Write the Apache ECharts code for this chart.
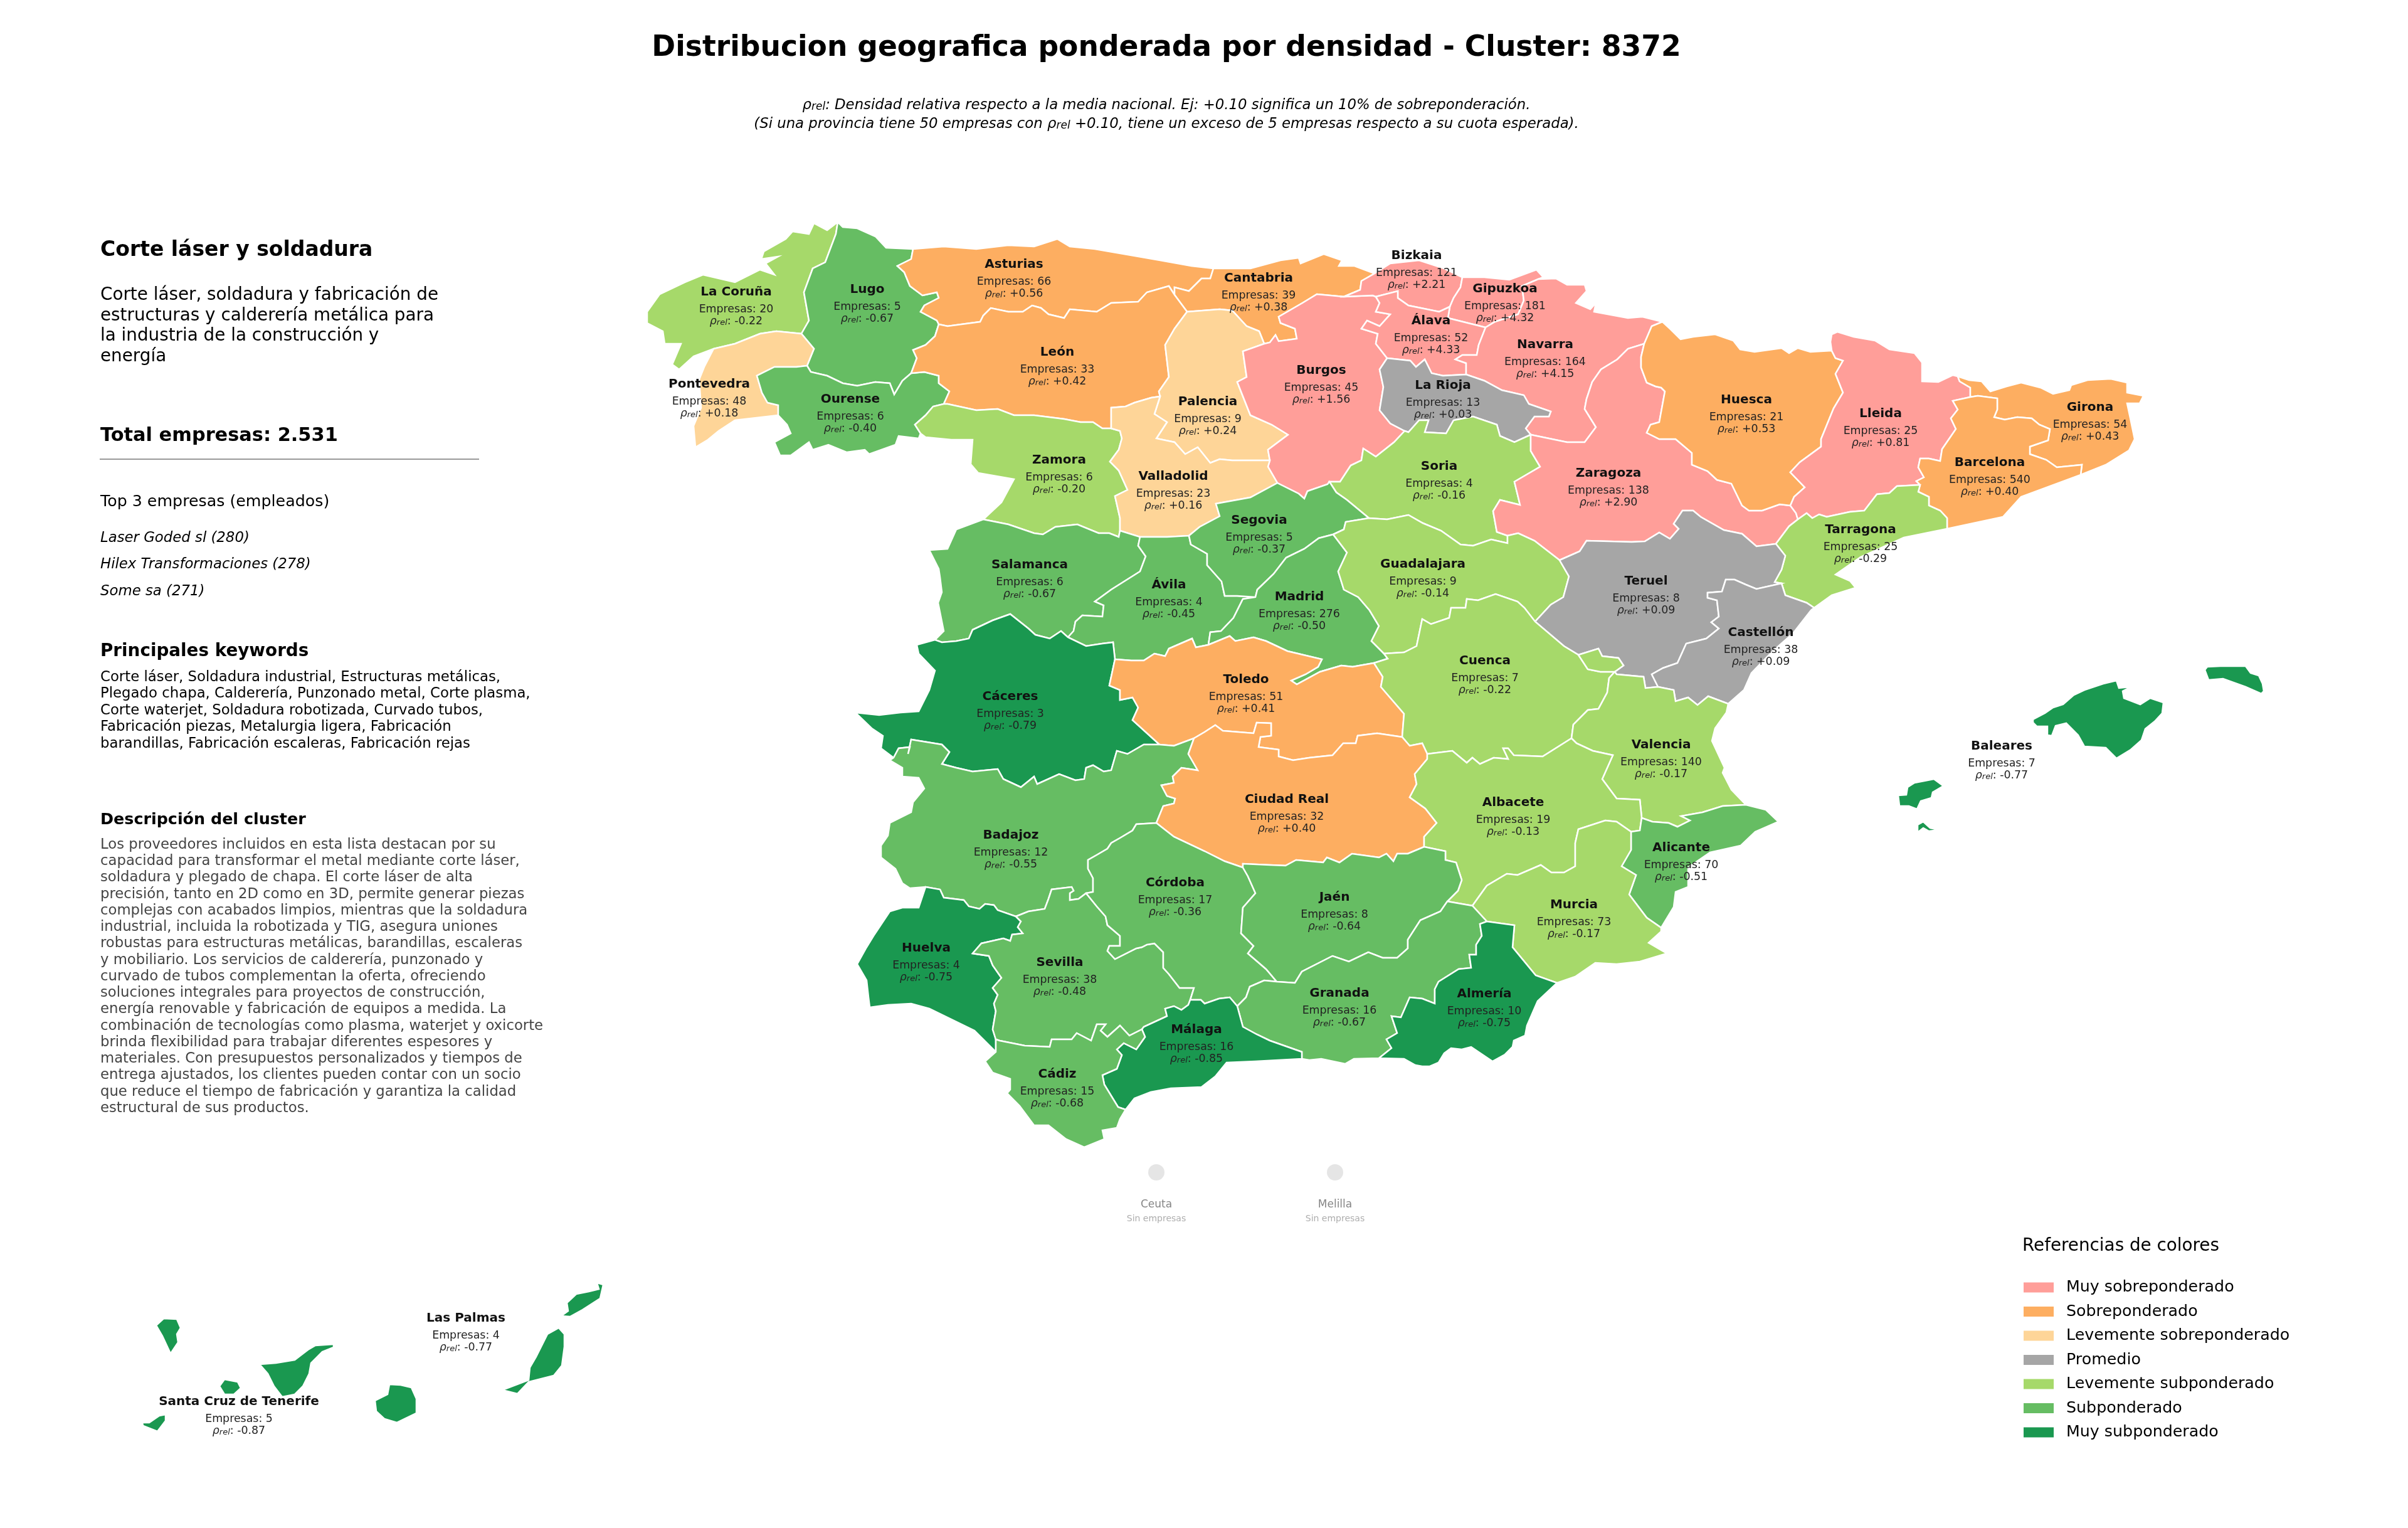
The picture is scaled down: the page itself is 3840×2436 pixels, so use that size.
<!DOCTYPE html>
<html>
<head>
<meta charset="utf-8">
<style>html,body{margin:0;padding:0;background:#fff}#chart{width:3840px;height:2436px}</style>
<script src="https://cdn.jsdelivr.net/npm/echarts@6/dist/echarts.min.js"></script>
</head>
<body>
<div id="chart"></div>
<script>
var FONT = '"DejaVu Sans"';

// values
var provinces = ['La Coruña','Lugo','Pontevedra','Ourense','Asturias','Cantabria','León','Palencia','Burgos','Bizkaia','Gipuzkoa','Álava','Navarra','La Rioja','Zamora','Valladolid','Soria','Zaragoza','Huesca','Lleida','Girona','Barcelona','Tarragona','Salamanca','Ávila','Segovia','Madrid','Guadalajara','Teruel','Castellón','Cáceres','Toledo','Cuenca','Valencia','Badajoz','Ciudad Real','Albacete','Alicante','Huelva','Sevilla','Córdoba','Jaén','Murcia','Granada','Almería','Málaga','Cádiz','Baleares','Las Palmas','Santa Cruz de Tenerife'];
var empresas = [20,5,48,6,66,39,33,9,45,121,181,52,164,13,6,23,4,138,21,25,54,540,25,6,4,5,276,9,8,38,3,51,7,140,12,32,19,70,4,38,17,8,73,16,10,16,15,7,4,5];
var rhoRel = [-0.22,-0.67,0.18,-0.40,0.56,0.38,0.42,0.24,1.56,2.21,4.32,4.33,4.15,0.03,-0.20,0.16,-0.16,2.90,0.53,0.81,0.43,0.40,-0.29,-0.67,-0.45,-0.37,-0.50,-0.14,0.09,0.09,-0.79,0.41,-0.22,-0.17,-0.55,0.40,-0.13,-0.51,-0.75,-0.48,-0.36,-0.64,-0.17,-0.67,-0.75,-0.85,-0.68,-0.77,-0.77,-0.87];

var legendLabels = ['Muy sobreponderado','Sobreponderado','Levemente sobreponderado','Promedio','Levemente subponderado','Subponderado','Muy subponderado'];
var legendColors = ['#ff9e99','#fdae61','#fed598','#a6a6a6','#a6d96a','#66bd63','#1a9850'];

var noData = ['Ceuta','Melilla'];
var noDataPoints = [[1844,1869],[2129,1869]];

var mainTitle = 'Distribucion geografica ponderada por densidad - Cluster: 8372';
var clusterName = 'Corte láser y soldadura';
var clusterSummary = ['Corte láser, soldadura y fabricación de','estructuras y calderería metálica para','la industria de la construcción y','energía'];
var totalText = 'Total empresas: 2.531';
var topCompanies = ['Laser Goded sl (280)','Hilex Transformaciones (278)','Some sa (271)'];
var keywords = ['Corte láser, Soldadura industrial, Estructuras metálicas,','Plegado chapa, Calderería, Punzonado metal, Corte plasma,','Corte waterjet, Soldadura robotizada, Curvado tubos,','Fabricación piezas, Metalurgia ligera, Fabricación','barandillas, Fabricación escaleras, Fabricación rejas'];
var description = ['Los proveedores incluidos en esta lista destacan por su','capacidad para transformar el metal mediante corte láser,','soldadura y plegado de chapa. El corte láser de alta','precisión, tanto en 2D como en 3D, permite generar piezas','complejas con acabados limpios, mientras que la soldadura','industrial, incluida la robotizada y TIG, asegura uniones','robustas para estructuras metálicas, barandillas, escaleras','y mobiliario. Los servicios de calderería, punzonado y','curvado de tubos complementan la oferta, ofreciendo','soluciones integrales para proyectos de construcción,','energía renovable y fabricación de equipos a medida. La','combinación de tecnologías como plasma, waterjet y oxicorte','brinda flexibilidad para trabajar diferentes espesores y','materiales. Con presupuestos personalizados y tiempos de','entrega ajustados, los clientes pueden contar con un socio','que reduce el tiempo de fabricación y garantiza la calidad','estructural de sus productos.'];

// province outlines, in picture pixels. shared borders are
// kept once, as arcs, so neighbours close up without gaps
var arcs = {
COR_coast:'1336,354 1319,367 1298,356 1290,373 1264,369 1253,381 1218,401 1214,413 1241,409 1221,420 1235,438 1212,430 1172,450 1121,438 1092,450 1052,469 1032,497 1032,515 1057,528 1060,548 1086,548 1072,581 1083,589 1106,568 1138,556',
COR_PO:'1138,556 1172,548 1212,532 1238,528 1278,532',
COR_LU:'1278,532 1290,511 1282,466 1296,428 1316,418 1333,373 1336,354',
LU_coast:'1336,354 1344,362 1367,364 1396,377 1413,395 1456,397',
LU_AS:'1456,397 1453,413 1431,424 1442,434 1451,456 1471,471 1494,466 1497,475 1474,487 1468,497 1494,511 1497,517',
LU_LE:'1497,517 1491,536 1476,550 1456,558 1462,571 1453,595',
LU_OU:'1453,595 1439,607 1426,629 1419,611 1396,609 1367,615 1344,611 1319,599 1293,593 1287,583',
LU_PO:'1287,583 1298,556 1278,532',
PO_OU:'1287,583 1270,585 1235,585 1207,599 1215,626 1224,642 1241,646 1241,662',
PO_south:'1241,662 1172,670 1146,687 1129,701 1109,713',
PO_west:'1109,713 1106,679 1118,650 1115,605 1123,585 1138,556',
OU_south:'1241,662 1255,677 1261,691 1235,705 1244,726 1261,726 1290,705 1296,717 1321,709 1350,721 1379,717 1386,724 1428,709 1433,695 1465,699 1468,691',
OU_ZA:'1468,691 1459,677 1476,662 1488,648 1505,644',
OU_LE:'1505,644 1514,624 1497,611 1497,599 1474,593 1453,595',
AS_coast:'1456,397 1505,393 1557,397 1608,391 1649,393 1686,381 1706,393 1746,397 1804,407 1850,415 1900,424 1935,428',
AS_CB:'1935,428 1930,444 1916,444 1896,464 1873,458 1873,470',
AS_LE:'1497,517 1511,520 1563,513 1568,503 1580,491 1608,497 1631,497 1646,487 1660,491 1672,501 1697,507 1706,493 1749,497 1772,483 1815,481 1829,466 1864,456 1873,470',
CB_coast:'1935,428 1994,428 2042,415 2071,411 2074,420 2111,405 2140,415 2135,424 2160,424 2192,436',
CB_BI:'2192,436 2171,448 2169,462 2143,473',
CB_BU:'2143,473 2100,469 2077,483 2039,505 2042,515 2065,524 2068,540 2039,544 2034,534 2025,546 2016,548',
CB_P:'2016,548 2008,528 1988,520 1965,495 1945,493 1893,497',
CB_LE:'1893,497 1873,470',
LE_P:'1893,497 1873,524 1858,550 1864,601 1848,624 1850,632',
LE_VA:'1850,632 1836,634 1809,642 1795,648 1772,650 1772,683',
LE_ZA:'1505,644 1511,644 1557,654 1591,652 1617,662 1649,662 1697,668 1723,673 1743,673 1758,683 1772,683',
ZA_west:'1468,691 1476,697 1517,701 1551,701 1548,740 1560,754 1617,764 1597,801 1568,828',
ZA_SA:'1568,828 1608,836 1649,850 1663,852 1683,840 1718,836 1752,850 1769,850 1784,856 1786,846',
ZA_VA:'1772,683 1786,687 1789,699 1784,717 1770,736 1784,750 1798,781 1778,791 1786,826 1786,846',
P_VA:'1850,632 1841,660 1861,673 1844,699 1873,705 1890,724 1910,713 1930,738 1945,732 1965,734 2025,734',
P_BU:'2016,548 1982,560 1988,601 1973,609 1994,662 2028,677 2054,693 2022,717 2025,734',
BU_VA:'2025,734 2022,744 2037,770',
VA_SG:'1896,854 1913,840 1945,823 1939,803 1994,793 2037,770',
VA_AV:'1818,856 1861,856 1896,854',
SA_VA:'1786,846 1818,856',
BU_BI:'2143,473 2189,471 2194,473',
BU_VI:'2194,473 2200,483 2194,497 2217,501 2200,520 2180,511 2171,524 2197,532 2194,548 2212,571',
BU_LO:'2240,687 2217,675 2200,654 2206,617 2200,589 2212,571',
BU_SO:'2120,768 2137,768 2154,742 2171,734 2174,715 2194,728 2223,705 2240,687',
BU_SG:'2037,770 2071,787 2080,795 2085,783 2117,772 2120,768',
BI_coast:'2192,436 2217,420 2263,415 2303,428 2332,442',
BI_SS:'2332,442 2329,458 2318,475 2312,489',
BI_VI:'2312,489 2295,497 2246,487 2229,475 2229,464 2194,473',
SS_coast:'2332,442 2367,442 2407,446 2450,430 2461,442 2453,445',
SS_NA:'2453,445 2427,456 2430,479 2421,501 2384,513 2369,522',
VI_SS:'2312,489 2309,507 2369,522',
VI_NA:'2369,522 2358,550 2355,566 2332,566 2321,573 2338,579 2338,597',
VI_LO:'2338,597 2301,599 2283,595 2272,573 2258,585 2249,575 2212,571',
LO_NA:'2338,597 2367,607 2395,622 2430,630 2438,644 2473,656 2470,664 2447,664 2433,683 2441,693',
LO_SO:'2441,693 2415,705 2392,695 2387,677 2349,664 2318,670 2306,691 2272,689 2278,670 2263,670 2246,689 2240,687',
NA_north:'2453,445 2481,444 2499,454 2527,454 2530,464 2513,483 2536,493 2545,483 2542,497 2596,507 2619,505 2651,513',
NA_HU:'2651,513 2634,520 2622,548',
NA_Z:'2622,548 2596,556 2579,573 2553,589 2539,609 2530,636 2527,652 2545,681 2527,705 2499,705 2441,693',
SO_Z:'2441,693 2441,719 2456,744 2415,768 2424,805 2392,797 2381,815 2387,848 2404,854',
SO_GU:'2404,854 2404,866 2378,860 2349,870 2329,868 2298,846 2269,834 2246,821 2212,828 2183,826',
SO_SG:'2183,826 2148,797 2131,785 2120,768',
SG_GU:'2183,826 2146,832 2143,844 2126,852',
SG_M:'2126,852 2103,858 2080,875 2051,889 2031,915 2005,940 2002,952',
SG_AV:'2002,952 1973,950 1953,950 1948,927 1925,901 1925,883 1899,868 1896,854',
Z_GU:'2404,854 2421,850 2447,862 2487,893',
GU_TE:'2487,893 2502,919 2493,952 2473,964 2448,991',
GU_CU:'2207,1042 2239,1040 2259,1030 2268,987 2282,995 2311,985 2314,969 2337,969 2339,955 2357,957 2385,947 2420,959 2431,969 2448,991',
M_GU:'2126,852 2148,881 2134,911 2143,940 2166,952 2184,973 2199,998 2187,1022 2207,1042',
M_CU:'2207,1042 2213,1050 2191,1057',
M_TO:'1927,1028 1961,1014 1970,1022 1999,1016 2019,1022 2053,1038 2108,1051 2102,1063 2082,1075 2059,1085 2068,1091 2105,1071 2139,1061 2157,1063 2191,1057',
AV_M:'1927,1028 1930,1008 1947,1006 1967,985 1982,955 2002,952',
AV_TO:'1778,1051 1804,1053 1824,1053 1841,1042 1858,1046 1864,1034 1901,1018 1907,1032 1927,1028',
AV_CC:'1778,1051 1775,1024 1758,1026 1732,1030 1703,1016',
SA_AV:'1818,856 1815,870 1827,887 1818,911 1772,940 1746,959 1760,965 1758,983 1726,981 1715,991 1712,1006 1703,1016',
SA_CC:'1703,1016 1692,1006 1674,1018 1651,1012 1640,1002 1611,979 1583,989 1551,1004 1545,1018 1525,1022 1502,1024 1491,1020',
SA_west:'1491,1020 1505,1006 1496,961 1502,944 1499,920 1497,907 1482,877 1511,875 1525,844 1568,828',
CC_west:'1491,1020 1462,1028 1465,1042 1491,1069 1482,1100 1465,1134 1436,1136 1402,1140 1364,1136 1390,1161 1408,1173 1405,1193 1425,1208',
CC_BA:'1425,1208 1433,1193 1451,1191 1448,1202 1453,1179 1502,1187 1514,1199 1502,1218 1525,1224 1551,1230 1591,1226 1600,1242 1628,1255 1649,1238 1654,1250 1689,1234 1715,1244 1729,1242 1732,1224 1743,1220 1760,1230 1772,1228 1781,1197 1798,1202 1824,1187 1849,1187',
CC_TO:'1778,1051 1769,1093 1786,1100 1786,1116 1806,1112 1815,1128 1806,1148 1849,1187',
TO_CU:'2191,1057 2205,1079 2202,1095 2239,1138 2236,1175',
TO_CR:'2236,1175 2196,1169 2165,1173 2162,1185 2142,1185 2125,1204 2088,1208 2062,1212 2039,1206 2039,1195 2007,1191 2010,1175 2027,1173 2027,1153 2004,1152 1999,1169 1950,1165 1938,1156 1921,1167 1904,1177',
TO_BA:'1904,1177 1872,1189 1849,1187',
BA_CR:'1904,1177 1895,1202 1910,1228 1884,1224 1870,1238 1872,1248 1852,1252 1861,1269 1874,1273 1872,1281 1855,1285 1844,1312',
BA_CO:'1844,1312 1812,1314 1806,1324 1786,1336 1772,1344 1766,1353 1749,1363 1735,1371 1735,1385 1743,1400 1743,1422 1732,1424',
CR_CO:'1844,1312 1872,1334 1921,1357 1953,1373 1982,1383',
CR_J:'1982,1383 1982,1377 2025,1379 2050,1380 2067,1371 2110,1375 2116,1367 2136,1375 2156,1361 2199,1367 2211,1361 2222,1373 2228,1361 2245,1361 2271,1350',
CR_AB:'2276,1202 2276,1210 2256,1234 2259,1250 2248,1271 2273,1289 2291,1312 2271,1334 2271,1350',
CU_CR:'2236,1175 2248,1189 2268,1185 2276,1202',
CU_AB:'2506,1177 2460,1206 2414,1204 2405,1193 2397,1193 2405,1210 2382,1208 2360,1218 2348,1208 2339,1216 2316,1197 2276,1202',
TE_CU:'2448,991 2494,1030 2517,1044',
CU_ENC:'2517,1044 2532,1067 2552,1071 2575,1071',
TE_ENC:'2517,1044 2549,1034 2555,1046 2581,1049 2589,1061 2575,1071',
CU_V:'2575,1071 2566,1081 2563,1104 2549,1130 2532,1132 2509,1155 2506,1177',
V_AB:'2506,1177 2514,1185 2540,1197 2572,1204 2555,1242 2578,1273 2615,1275 2618,1304',
TE_V:'2575,1071 2578,1075 2621,1079 2624,1097 2644,1095',
CS_V:'2644,1095 2669,1100 2672,1118 2692,1112 2707,1124 2724,1110 2756,1122',
V_coast:'2756,1122 2753,1136 2735,1161 2730,1181 2750,1224 2747,1232 2761,1259 2784,1283',
V_A:'2784,1283 2747,1285 2715,1295 2681,1301 2695,1308 2675,1318 2661,1312 2635,1310 2618,1304',
Z_TE:'2487,893 2519,879 2530,862 2602,864 2623,863 2646,849 2663,859 2677,843 2669,835 2683,814 2700,814 2712,824 2749,845 2778,851 2801,871 2832,867',
TE_T:'2832,867 2847,886 2841,908 2830,928 2841,930',
TE_CS:'2841,930 2801,939 2784,932 2766,924 2752,924 2746,943 2723,945 2723,953 2738,957 2741,983 2729,992 2741,1002 2721,1018 2689,1026 2675,1057 2652,1065 2634,1075 2644,1095',
T_CS:'2893,969 2881,961 2847,949 2841,930',
CS_coast:'2893,969 2888,973 2859,1010 2827,1038 2793,1073 2781,1100 2756,1122',
T_coast:'3105,843 3036,857 2967,888 2927,916 2950,926 2959,937 2921,949 2893,969',
Z_T:'2832,867 2853,839 2867,828',
L_T:'3062,773 3025,775 3013,786 2993,788 2973,814 2950,816 2913,824 2901,820 2890,826 2881,818 2867,828',
B_T:'3062,773 3059,784 3076,792 3076,806 3094,814 3105,826 3105,843',
Z_HU:'2622,548 2617,569 2617,586 2626,610 2640,616 2649,618 2655,624 2646,673 2632,677 2626,690 2646,700 2672,700 2698,722 2698,741 2723,751 2738,765 2761,771 2778,806 2789,814 2810,814 2838,804 2855,806',
Z_L:'2855,806 2864,818 2867,828',
HU_north:'2651,513 2663,524 2680,541 2700,537 2735,533 2764,543 2775,557 2798,561 2841,555 2853,563 2867,555 2887,561 2921,559',
HU_L:'2921,559 2927,571 2939,575 2927,596 2939,626 2924,651 2904,700 2904,712 2870,737 2855,753 2878,777 2861,792 2855,806',
L_north:'2921,559 2919,545 2921,533 2930,529 2956,537 2990,543 3013,557 3053,563 3065,578 3065,608 3091,609 3114,598 3122,600',
L_GE:'3122,600 3125,608 3142,618 3142,633',
L_B:'3142,633 3114,639 3122,653 3111,667 3119,684 3108,700 3097,716 3094,735 3076,731 3062,731 3059,745 3068,761 3056,767 3062,773',
GE_coast:'3122,600 3140,606 3160,608 3174,624 3200,616 3223,610 3254,618 3274,628 3300,622 3303,614 3329,606 3366,604 3392,610 3392,626 3418,631 3412,643 3392,643 3398,671 3404,700 3395,718 3358,741 3318,757',
GE_B:'3318,757 3320,741 3280,745 3263,733 3237,724 3237,712 3266,702 3269,684 3252,677 3240,667 3217,665 3197,669 3180,665 3185,653 3185,635 3154,631 3142,633',
B_coast:'3105,843 3194,824 3223,792 3318,757',
A_coast:'2784,1283 2816,1291 2836,1310 2799,1326 2776,1348 2727,1359 2692,1383 2692,1414 2672,1422 2669,1446 2649,1479',
MU_A:'2601,1326 2601,1355 2586,1381 2609,1395 2598,1426 2626,1463 2649,1479',
AB_A:'2601,1326 2615,1324 2618,1304',
AB_MU:'2348,1444 2371,1412 2403,1393 2420,1395 2457,1379 2474,1391 2494,1391 2512,1381 2512,1344 2517,1322 2560,1308 2578,1310 2601,1326',
AB_GR:'2308,1437 2348,1444',
AB_J:'2271,1350 2305,1357 2305,1371 2322,1375 2331,1403 2325,1420 2308,1437',
MU_coast:'2649,1479 2649,1485 2629,1503 2658,1520 2615,1533 2578,1537 2544,1535 2512,1557 2483,1567',
MU_AL:'2483,1567 2449,1555 2412,1510 2415,1475 2371,1469',
MU_GR:'2371,1469 2348,1444',
AL_coast:'2483,1567 2452,1596 2435,1635 2432,1651 2414,1659 2412,1669 2400,1681 2380,1692 2346,1669 2331,1673 2314,1671 2303,1679 2294,1694 2280,1700 2268,1700 2257,1698 2239,1688 2199,1687',
GR_AL:'2199,1687 2219,1671 2211,1657 2228,1647 2219,1620 2234,1622 2248,1590 2268,1592 2288,1600 2288,1577 2294,1565 2326,1545 2346,1543 2343,1522 2354,1522 2354,1506 2363,1492 2360,1473 2371,1469',
GR_coast:'2076,1688 2088,1690 2107,1688 2145,1696 2159,1688 2199,1687',
MA_GR:'1973,1604 1982,1637 2004,1649 2025,1659 2076,1677 2076,1688',
CO_GR:'2036,1565 2016,1563 1993,1573 1987,1590 1973,1604',
J_GR:'2036,1565 2065,1567 2076,1549 2125,1524 2151,1533 2182,1518 2205,1527 2228,1527 2245,1512 2245,1498 2265,1467 2297,1453 2308,1437',
CO_J:'1982,1383 1990,1397 2002,1424 1982,1447 1979,1488 1999,1508 1990,1520 2019,1545 2036,1565',
CO_MA:'1973,1604 1961,1590 1944,1592 1921,1600 1915,1594 1898,1594',
CO_SE:'1898,1594 1904,1575 1881,1575 1864,1553 1855,1543 1855,1518 1841,1504 1829,1506 1821,1510 1812,1512 1778,1529 1766,1516 1769,1508 1786,1508 1786,1492 1766,1475 1763,1461 1749,1445 1732,1424',
SE_MA:'1898,1594 1895,1602 1884,1610 1872,1604 1858,1608 1861,1620 1824,1637 1821,1641',
SE_CA:'1821,1641 1801,1651 1786,1635 1766,1653 1755,1643 1763,1633 1749,1633 1740,1659 1717,1647 1709,1657 1677,1657 1674,1669 1634,1667 1594,1659 1588,1657',
H_SE:'1620,1461 1628,1469 1623,1478 1631,1488 1614,1490 1611,1500 1600,1496 1565,1504 1551,1520 1577,1524 1583,1539 1597,1559 1583,1575 1591,1586 1585,1600 1588,1612 1583,1641 1588,1657',
BA_SE:'1620,1461 1640,1453 1666,1449 1672,1433 1677,1418 1709,1414 1712,1420 1706,1424 1706,1435 1720,1433 1732,1424',
BA_H:'1476,1414 1499,1418 1505,1431 1537,1435 1545,1445 1562,1449 1571,1441 1585,1443 1591,1451 1620,1461',
BA_west:'1425,1208 1419,1212 1439,1224 1439,1238 1465,1240 1474,1257 1456,1279 1453,1295 1419,1312 1416,1332 1405,1348 1405,1367 1428,1385 1439,1408 1451,1416 1476,1414',
H_CA:'1588,1657 1588,1677',
H_coast:'1588,1677 1554,1643 1482,1608 1453,1600 1416,1602 1387,1606 1385,1590 1382,1563 1367,1537 1382,1510 1393,1492 1419,1453 1439,1447 1465,1447 1476,1414',
MA_coast:'2076,1688 2002,1692 1956,1694 1938,1716 1916,1733 1867,1735 1835,1741 1809,1751 1795,1769',
MA_CA:'1795,1769 1783,1765 1761,1729 1758,1714 1781,1704 1789,1682 1781,1673 1792,1663 1812,1673 1826,1653 1821,1641',
CA_coast:'1795,1769 1786,1784 1781,1798 1758,1802 1761,1816 1729,1829 1700,1816 1672,1794 1649,1794 1626,1763 1606,1743 1611,1737 1611,1720 1583,1710 1571,1692 1588,1677',
mallorca:'3242,1147 3261,1137 3274,1128 3290,1123 3307,1108 3324,1100 3354,1090 3375,1085 3379,1097 3398,1095 3385,1102 3387,1113 3413,1123 3429,1113 3450,1120 3448,1137 3436,1150 3421,1162 3415,1180 3398,1195 3375,1209 3358,1192 3324,1190 3314,1172 3295,1153 3278,1157 3272,1173 3265,1172 3265,1158 3248,1158 3242,1152 3242,1147',
menorca:'3516,1068 3520,1063 3541,1062 3581,1062 3589,1073 3602,1077 3608,1090 3610,1102 3606,1106 3581,1095 3545,1082 3522,1084 3516,1068',
ibiza:'3027,1268 3040,1267 3042,1255 3053,1248 3084,1242 3099,1253 3082,1263 3080,1272 3063,1277 3057,1290 3044,1285 3029,1285 3027,1268',
formentera:'3058,1315 3067,1310 3078,1320 3093,1323 3076,1325 3067,1320 3058,1327 3058,1315',
laPalma:'249,2113 261,2102 282,2103 288,2117 282,2127 284,2140 272,2158 259,2130 249,2113',
tenerife:'414,2175 440,2173 470,2168 491,2152 503,2145 532,2143 532,2148 514,2155 496,2173 493,2190 483,2210 470,2223 450,2227 437,2210 427,2190 414,2175',
gomera:'350,2210 358,2199 379,2203 384,2213 373,2223 358,2223 350,2210',
hierro:'227,2268 238,2268 254,2257 264,2255 264,2265 251,2282 228,2273 227,2268',
granCanaria:'598,2233 618,2223 621,2207 639,2208 656,2212 664,2230 664,2253 633,2268 613,2262 600,2250 598,2233',
fuerteventura:'801,2216 843,2200 845,2180 855,2163 873,2127 891,2117 900,2127 900,2147 896,2177 883,2193 843,2203 825,2222 801,2216',
lanzarote:'895,2098 906,2090 904,2077 919,2063 939,2059 955,2055 952,2045 962,2048 957,2070 929,2088 909,2099 895,2098',
graciosa:'950,2037 953,2037 949,2043 950,2037'
};

var rings = {
'La Coruña':['COR_coast COR_PO COR_LU'],
'Lugo':['LU_coast LU_AS LU_LE LU_OU LU_PO COR_LU'],
'Pontevedra':['PO_OU PO_south PO_west COR_PO -LU_PO'],
'Ourense':['OU_south OU_ZA OU_LE LU_OU PO_OU'],
'Asturias':['AS_coast AS_CB -AS_LE -LU_AS'],
'Cantabria':['CB_coast CB_BI CB_BU CB_P CB_LE -AS_CB'],
'León':['AS_LE -CB_LE LE_P LE_VA -LE_ZA OU_LE -LU_LE'],
'Zamora':['ZA_west ZA_SA -ZA_VA -LE_ZA -OU_ZA'],
'Palencia':['-CB_P P_BU -P_VA -LE_P'],
'Valladolid':['P_VA BU_VA -VA_SG -VA_AV -SA_VA -ZA_VA -LE_VA'],
'Burgos':['BU_BI BU_VI -BU_LO -BU_SO -BU_SG -BU_VA -P_BU -CB_BU'],
'Bizkaia':['BI_coast BI_SS BI_VI -BU_BI -CB_BI'],
'Gipuzkoa':['SS_coast SS_NA -VI_SS -BI_SS'],
'Álava':['VI_SS VI_NA VI_LO -BU_VI -BI_VI'],
'La Rioja':['-VI_LO LO_NA LO_SO BU_LO'],
'Navarra':['NA_north NA_HU NA_Z -LO_NA -VI_NA -SS_NA'],
'Soria':['SO_Z SO_GU SO_SG BU_SO -LO_SO'],
'Segovia':['BU_SG -SO_SG SG_GU SG_M SG_AV VA_SG'],
'Guadalajara':['-SO_GU Z_GU GU_TE -GU_CU -M_GU -SG_GU'],
'Madrid':['M_GU M_CU -M_TO AV_M -SG_M'],
'Ávila':['VA_AV -SG_AV -AV_M -AV_TO AV_CC -SA_AV'],
'Salamanca':['ZA_SA SA_VA SA_AV SA_CC SA_west'],
'Cáceres':['-SA_CC -AV_CC CC_TO -CC_BA -CC_west'],
'Toledo':['AV_TO M_TO TO_CU TO_CR TO_BA -CC_TO'],
'Badajoz':['CC_BA -TO_BA BA_CR BA_CO -BA_SE -BA_H -BA_west'],
'Ciudad Real':['-TO_CR CU_CR CR_AB -CR_J -CR_CO -BA_CR'],
'Cuenca':['GU_CU TE_CU CU_ENC CU_V CU_AB -CU_CR -TO_CU -M_CU'],
'Albacete':['-CU_AB V_AB -AB_A -AB_MU -AB_GR -AB_J -CR_AB'],
'Valencia':['-CU_V TE_V CS_V V_coast V_A -V_AB','TE_ENC -CU_ENC'],
'Teruel':['Z_TE TE_T TE_CS -TE_V -TE_ENC -TE_CU -GU_TE'],
'Castellón':['CS_coast -CS_V -TE_CS -T_CS'],
'Tarragona':['T_coast T_CS -TE_T Z_T -L_T B_T'],
'Zaragoza':['-NA_Z Z_HU Z_L -Z_T -Z_TE -Z_GU -SO_Z'],
'Huesca':['-NA_HU HU_north HU_L -Z_HU'],
'Lleida':['L_north L_GE L_B L_T -Z_L -HU_L'],
'Girona':['GE_coast GE_B -L_GE'],
'Barcelona':['B_coast GE_B L_B B_T'],
'Alicante':['-V_A A_coast -MU_A AB_A'],
'Murcia':['AB_MU MU_A MU_coast MU_AL MU_GR'],
'Almería':['-MU_AL AL_coast GR_AL'],
'Granada':['AB_GR -MU_GR -GR_AL -GR_coast -MA_GR -CO_GR J_GR'],
'Jaén':['CR_J AB_J -J_GR -CO_J'],
'Córdoba':['CR_CO CO_J CO_GR CO_MA CO_SE -BA_CO'],
'Sevilla':['BA_SE -CO_SE SE_MA SE_CA -H_SE'],
'Huelva':['BA_H H_SE H_CA H_coast'],
'Málaga':['-CO_MA MA_GR MA_coast MA_CA -SE_MA'],
'Cádiz':['-SE_CA -MA_CA CA_coast -H_CA'],
'Baleares':['mallorca','menorca','ibiza','formentera'],
'Las Palmas':['granCanaria','fuerteventura','lanzarote','graciosa'],
'Santa Cruz de Tenerife':['laPalma','tenerife','gomera','hierro']
};

// where each province name sits
var labelAt = {
'La Coruña':[1174,464],'Lugo':[1383,460],'Pontevedra':[1131,611],'Ourense':[1356,635],'Asturias':[1617,420],'Cantabria':[2007,442],'León':[1686,560],'Palencia':[1926,639],'Burgos':[2107,589],'Bizkaia':[2259,406],'Gipuzkoa':[2400,459],'Álava':[2282,510],'Navarra':[2464,548],'La Rioja':[2301,613],'Zamora':[1689,732],'Valladolid':[1871,758],'Soria':[2295,742],'Zaragoza':[2565,753],'Huesca':[2785,636],'Lleida':[2999,658],'Girona':[3333,648],'Barcelona':[3173,736],'Tarragona':[2967,843],'Salamanca':[1642,899],'Ávila':[1864,931],'Segovia':[2008,828],'Madrid':[2072,950],'Guadalajara':[2269,898],'Teruel':[2625,925],'Castellón':[2808,1007],'Cáceres':[1611,1109],'Toledo':[1987,1082],'Cuenca':[2368,1052],'Valencia':[2649,1186],'Badajoz':[1612,1330],'Ciudad Real':[2052,1273],'Albacete':[2413,1278],'Alicante':[2681,1350],'Huelva':[1477,1510],'Sevilla':[1690,1533],'Córdoba':[1874,1406],'Jaén':[2128,1429],'Murcia':[2510,1441],'Granada':[2136,1582],'Almería':[2367,1583],'Málaga':[1908,1640],'Cádiz':[1686,1711],'Baleares':[3192,1188],'Las Palmas':[743,2100],'Santa Cruz de Tenerife':[381,2233]
};

function arcPoints(name) {
    var rev = name.charAt(0) === '-';
    var pts = arcs[rev ? name.slice(1) : name].split(' ').map(function (s) {
        return s.split(',').map(Number);
    });
    return rev ? pts.reverse() : pts;
}
function buildRing(spec) {
    var out = [];
    spec.split(' ').forEach(function (name) {
        out = out.concat(arcPoints(name));
    });
    return out;
}
var features = provinces.map(function (name) {
    var at = labelAt[name];
    return {
        type: 'Feature',
        // 21px: from the name line to the middle of the three-line label
        properties: {name: name, cp: [at[0], at[1] + 21]},
        geometry: {type: 'MultiPolygon', coordinates: rings[name].map(function (s) { return [buildRing(s)]; })}
    };
});
echarts.registerMap('spain', {type: 'FeatureCollection', features: features});

var flat = {project: function (p) { return p; }, unproject: function (p) { return p; }};
var frame = [[0, 0], [3840, 2436]];

function rhoText(v) {
    return '{r|ρ}{s|rel}{v|: ' + (v >= 0 ? '+' : '') + v.toFixed(2) + '}';
}
function txt(x, y, text, size, extra) {
    var style = {x: x, y: y, text: text, fontSize: size, fontFamily: FONT, fill: '#000', textAlign: 'left', textVerticalAlign: 'middle'};
    for (var k in extra) style[k] = extra[k];
    return {type: 'text', silent: true, style: style};
}
function lines(list, x, y0, step, size, extra) {
    return list.map(function (t, i) { return txt(x, y0 + i * step, t, size, extra); });
}

var noteRich = {
    i: {fontStyle: 'italic', fontSize: 22.8, fontFamily: FONT, fill: '#000'},
    s: {fontStyle: 'italic', fontSize: 17, fontFamily: FONT, fill: '#000', verticalAlign: 'bottom'}
};
var graphics = [
    txt(1860, 77, mainTitle, 45.6, {fontWeight: 'bold', textAlign: 'center'}),
    txt(1860, 168, '{i|ρ}{s|rel}{i|: Densidad relativa respecto a la media nacional. Ej: +0.10 significa un 10% de sobreponderación.}', 22.8, {textAlign: 'center', rich: noteRich}),
    txt(1860, 198, '{i|(Si una provincia tiene 50 empresas con ρ}{s|rel}{i| +0.10, tiene un exceso de 5 empresas respecto a su cuota esperada).}', 22.8, {textAlign: 'center', rich: noteRich}),
    txt(160, 399, clusterName, 33, {fontWeight: 'bold'}),
    txt(160, 695, totalText, 30.4, {fontWeight: 'bold'}),
    {type: 'line', silent: true, shape: {x1: 159, y1: 732, x2: 764, y2: 732}, style: {stroke: '#999', lineWidth: 2}},
    txt(160, 800, 'Top 3 empresas (empleados)', 25.3),
    txt(160, 1039, 'Principales keywords', 27.8, {fontWeight: 'bold'}),
    txt(160, 1307, 'Descripción del cluster', 25.4, {fontWeight: 'bold'}),
    txt(3225, 1987, 'Referencias de colores', 27.8)
].concat(
    lines(clusterSummary, 160, 471, 32.5, 27.8),
    lines(topCompanies, 160, 858, 42.5, 22.8, {fontStyle: 'italic'}),
    lines(keywords, 160, 1080, 26.5, 22.8),
    lines(description, 160, 1347, 26.25, 22.75, {fill: '#444'})
);

var thresholds = [[0.7, Infinity], [0.3, 0.7], [0.1, 0.3], [-0.1, 0.1], [-0.3, -0.1], [-0.7, -0.3], [-Infinity, -0.7]];

var option = {
    backgroundColor: '#fff',
    animation: false,
    graphic: graphics,
    visualMap: {
        type: 'piecewise',
        seriesIndex: 0,
        left: 3212,
        top: 2025,
        itemWidth: 48,
        itemHeight: 16,
        itemGap: 13.5,
        itemSymbol: 'rect',
        align: 'left',
        selectedMode: false,
        hoverLink: false,
        textGap: 20,
        textStyle: {fontFamily: FONT, fontSize: 25.3, color: '#000'},
        pieces: legendLabels.map(function (label, i) {
            return {gte: thresholds[i][0], lt: thresholds[i][1], label: label, color: legendColors[i]};
        })
    },
    geo: {
        map: 'spain',
        projection: flat,
        boundingCoords: frame,
        left: 0, top: 0, right: 0, bottom: 0,
        silent: true,
        itemStyle: {areaColor: 'transparent', borderWidth: 0},
        label: {show: false}
    },
    series: [{
        type: 'map',
        map: 'spain',
        projection: flat,
        boundingCoords: frame,
        left: 0, top: 0, right: 0, bottom: 0,
        silent: true,
        selectedMode: false,
        emphasis: {disabled: true},
        itemStyle: {borderColor: '#fff', borderWidth: 2.5},
        label: {
            show: true,
            fontFamily: FONT,
            formatter: function (p) {
                return '{n|' + p.name + '}\n{v|Empresas: ' + p.data.empresas + '}\n' + rhoText(p.value);
            },
            rich: {
                n: {fontFamily: FONT, fontSize: 20, fontWeight: 'bold', color: '#111', lineHeight: 35},
                v: {fontFamily: FONT, fontSize: 17.4, color: '#222', lineHeight: 19},
                r: {fontFamily: FONT, fontSize: 17.4, fontStyle: 'italic', color: '#222', lineHeight: 19},
                s: {fontFamily: FONT, fontSize: 13, fontStyle: 'italic', color: '#222', lineHeight: 19, verticalAlign: 'bottom'}
            }
        },
        data: provinces.map(function (name, i) {
            return {name: name, value: rhoRel[i], empresas: empresas[i]};
        })
    }, {
        type: 'scatter',
        coordinateSystem: 'geo',
        symbol: 'circle',
        symbolSize: 26,
        silent: true,
        itemStyle: {color: '#dfdfdf'},
        label: {
            show: true,
            position: 'bottom',
            distance: 27,
            formatter: function (p) { return '{c|' + p.name + '}\n{e|Sin empresas}'; },
            rich: {
                c: {fontFamily: FONT, fontSize: 17, color: '#666', lineHeight: 23},
                e: {fontFamily: FONT, fontSize: 14, color: '#999', lineHeight: 23}
            }
        },
        data: noData.map(function (name, i) {
            return {name: name, value: noDataPoints[i]};
        })
    }]
};

var gChart = echarts.init(document.getElementById('chart'));
gChart.setOption(option);
</script>
</body>
</html>
